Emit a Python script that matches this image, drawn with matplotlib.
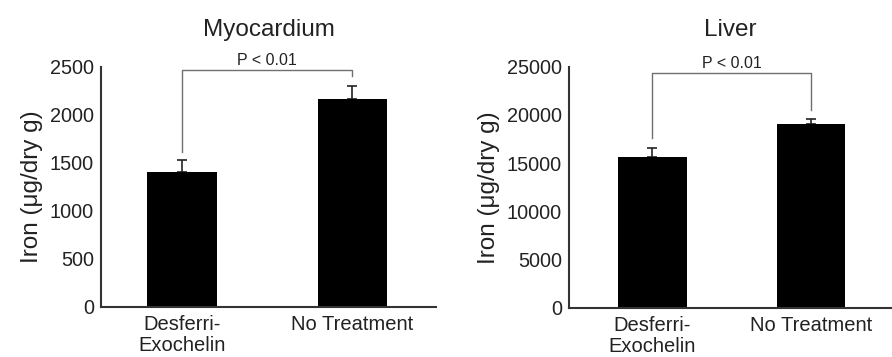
"""
Tissue iron after Desferri-Exochelin vs no treatment (myocardium, liver).
"""

import matplotlib
matplotlib.use("Agg")
import matplotlib.pyplot as plt

plt.rcParams["font.family"] = ["Liberation Sans", "DejaVu Sans"]

groups = ["Desferri-\nExochelin", "No Treatment"]

myo_mean = [1410, 2165]
myo_err = [125, 140]
myo_ticks = [0, 500, 1000, 1500, 2000, 2500]
myo_bracket = {"top": 2470, "left_base": 1615, "right_base": 2405}

liver_mean = [15600, 19100]
liver_err = [1000, 520]
liver_ticks = [0, 5000, 10000, 15000, 20000, 25000]
liver_bracket = {"top": 24380, "left_base": 17640, "right_base": 20510}

p_label = "P < 0.01"


def draw_panel(ax, title, means, errs, ticks, bracket, width, xlim):
    x = list(range(len(means)))
    ax.bar(x, means, width=width, color="black", zorder=2)
    ax.errorbar(x, means, yerr=[[0] * len(errs), errs], fmt="none",
                ecolor="#222222", elinewidth=1.2, capsize=3.5, capthick=1.2,
                zorder=1)

    # significance bracket
    bc = "#707070"
    ax.plot([x[0], x[0], x[1], x[1]],
            [bracket["left_base"], bracket["top"], bracket["top"], bracket["right_base"]],
            color=bc, lw=1.0, clip_on=False)
    ax.text((x[0] + x[1]) / 2, bracket["top"] + ticks[-1] * 0.021, p_label,
            ha="center", va="baseline", fontsize=11.5, color="#222222")

    ax.set_xlim(*xlim)
    ax.set_ylim(0, ticks[-1])
    ax.set_yticks(ticks)
    ax.set_yticklabels([str(t) for t in ticks], fontsize=14.3, color="#222222")
    ax.set_xticks(x)
    ax.set_xticklabels(groups, fontsize=14.5, color="#222222", linespacing=1.12)
    ax.tick_params(axis="x", length=0, pad=6)
    ax.tick_params(axis="y", length=0, pad=5)

    for s in ("top", "right"):
        ax.spines[s].set_visible(False)
    for s in ("left", "bottom"):
        ax.spines[s].set_color("#333333")
        ax.spines[s].set_linewidth(1.5)

    ax.set_ylabel("Iron (\u03bcg/dry g)", fontsize=17.5, color="#222222", labelpad=5)
    ax.set_title(title, fontsize=17.5, color="#222222", pad=22)


fig = plt.figure(figsize=(8.92, 3.57), dpi=100)
ax1 = fig.add_axes([0.1132, 0.1401, 0.3756, 0.6723])
ax2 = fig.add_axes([0.6376, 0.1373, 0.3624, 0.6759])

draw_panel(ax1, "Myocardium", myo_mean, myo_err, myo_ticks, myo_bracket,
           width=0.41, xlim=(-0.475, 1.49))
draw_panel(ax2, "Liver", liver_mean, liver_err, liver_ticks, liver_bracket,
           width=0.434, xlim=(-0.525, 1.51))

fig.savefig("out.png", dpi=100)
